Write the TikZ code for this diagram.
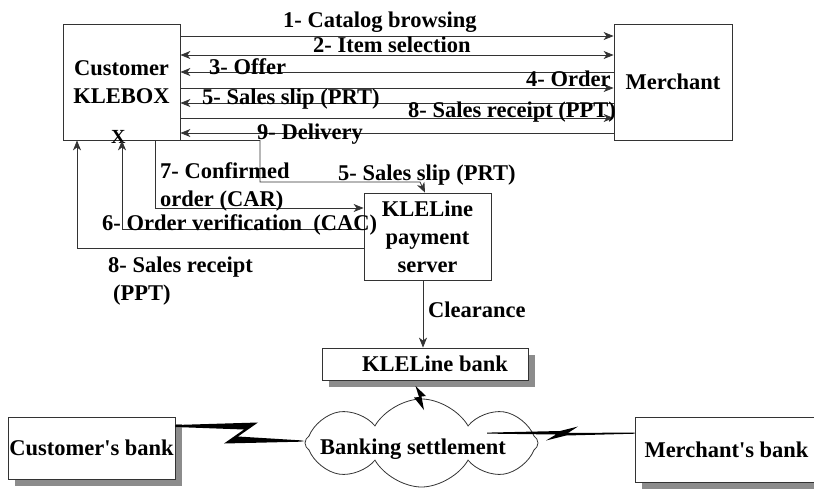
\documentclass[tikz,border=0pt]{standalone}
\usepackage{fontspec}
\setmainfont{Liberation Serif}[Ligatures=TeXOff]
\usetikzlibrary{arrows.meta,shapes.symbols,shadows}
\begin{document}
\begin{tikzpicture}[x=1pt,y=-1pt,
  font=\fontsize{22.5}{28}\selectfont\bfseries,
  every node/.style={inner sep=0pt},
  ln/.style={draw=black!80, line width=0.8pt},
  arr/.style={ln, -{Stealth[length=10pt,width=8pt,inset=3pt]}},
  arrtwo/.style={ln, {Stealth[length=10pt,width=8pt,inset=3pt]}-{Stealth[length=10pt,width=8pt,inset=3pt]}},
  box/.style={ln, fill=white, rectangle, align=center},
  sbox/.style={box, drop shadow={shadow xshift=7pt, shadow yshift=-7pt, fill=black!45, opacity=1}},
  lab/.style={anchor=base west},
  mlab/.style={anchor=north west, align=left},
  bolt/.style={fill=black},
]
\useasboundingbox[fill=white] (0,0) rectangle (814,488);

% main boxes
\node[box, minimum width=117pt, minimum height=116pt] (cust) at (121.5,82) {Customer\\KLEBOX};
\node[box, minimum width=118pt, minimum height=116pt] (merch) at (673,82) {Merchant};
\node[box, minimum width=127pt, minimum height=87pt] (srv) at (427.5,236.5) {KLELine\\payment\\server};
\node[sbox, minimum width=206pt, minimum height=32pt] (kbank) at (425,364) {\hspace*{20pt}KLELine bank};
\node[sbox, minimum width=167pt, minimum height=62pt] (cbank) at (91.5,448) {Customer's bank};
\node[sbox, minimum width=183pt, minimum height=65pt] (mbank) at (726.5,449.5) {Merchant's bank};
\node[cloud, ln, cloud puffs=8, cloud puff arc=120, cloud ignores aspect,
      shape border rotate=22.5,
      minimum width=233pt, minimum height=88pt] (cloud) at (421.5,443) {};
\node[lab] (bs) at (320,454) {Banking settlement};

% top connectors
\draw[arr] (cust.east |- 0,36) -- (merch.west |- 0,36);
\draw[arrtwo] (cust.east |- 0,55) -- (merch.west |- 0,55);
\draw[arr] (merch.west |- 0,72) -- (cust.east |- 0,72);
\draw[arr] (cust.east |- 0,88) -- (merch.west |- 0,88);
\draw[arr] (merch.west |- 0,103) -- (cust.east |- 0,103);
\draw[arr] (cust.east |- 0,118) -- (merch.west |- 0,118);
\draw[arr] (merch.west |- 0,133) -- (cust.east |- 0,133);

% top labels
\node[lab] (l1) at (283,27) {1- Catalog browsing};
\node[lab] (l2) at (313,52) {2- Item selection};
\node[lab] (l3) at (209,74) {3- Offer};
\node[lab] (l4) at (526,86) {4- Order};
\node[lab] (l5) at (202,104) {5- Sales slip (PRT)};
\node[lab] (l8) at (408,117) {8- Sales receipt (PPT)};
\node[lab] (l9) at (257,139) {9- Delivery};
\node[lab, font=\fontsize{20}{24}\selectfont\bfseries] (lx) at (111,143) {X};

% lower connectors
\draw[arr] (srv.west |- 0,248) -| (77,0 |- cust.south);
\draw[arr] (srv.west |- 0,229) -| (122,0 |- cust.south);
\draw[arr] (155,0 |- cust.south) |- (srv.west |- 0,208);
\draw[arr] (cust.south east) -| (260,182) -- (420,182) -- (425,0 |- srv.north);
\draw[arr] (423,0 |- srv.south) -- (423,0 |- kbank.north);

% lower labels
\node[mlab] (l7) at (160,162) {7- Confirmed\\order (CAR)};
\node[lab] (l6) at (102,230) {6- Order verification~ (CAC)};
\node[mlab] (l8b) at (108,257) {8- Sales receipt\\\hspace*{5pt}(PPT)};
\node[lab] (l5b) at (338,180) {5- Sales slip (PRT)};
\node[lab] (lc) at (428,317) {Clearance};

% lightning links
\fill[bolt] (cbank.east |- 0,425) -- (258,422.5) -- (238,436.5) -- (300,440.3)
  -- (cloud.west |- 0,441) -- (300,441.7) -- (224,443.5) -- (244,429.5)
  -- (cbank.east |- 0,427) -- cycle;
\fill[bolt] (487,432.6) -- (560,431) -- (578,426.5) -- (568,433)
  -- (mbank.west |- 0,432.5) -- (mbank.west |- 0,433.7) -- (566,435.5)
  -- (546,440.5) -- (556,434.5) -- (487,433.6) -- cycle;
\fill[bolt] (415.5,386) -- (426,396) -- (421.5,396.5) -- (424,410)
  -- (414,397.5) -- (419,397) -- cycle;
\end{tikzpicture}
\end{document}
